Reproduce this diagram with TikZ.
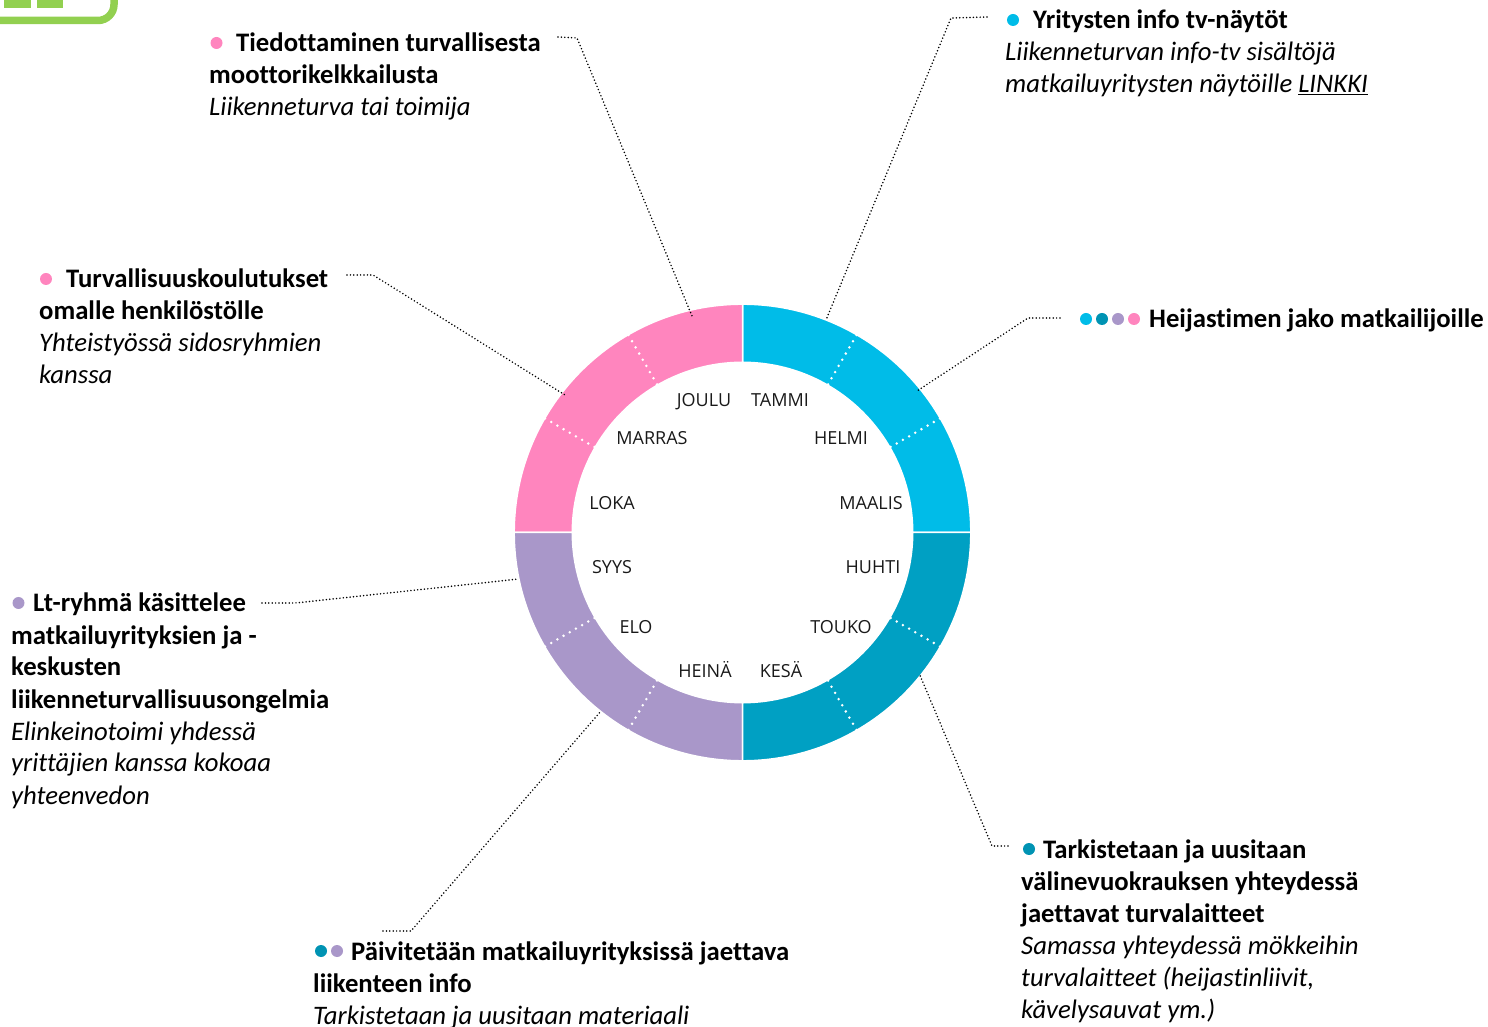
\documentclass[tikz,border=0pt]{standalone}
\usepackage{fontspec}
\setmainfont[Ligatures=NoCommon]{Carlito}
\newfontfamily\monthfont{Open Sans}
\definecolor{ringpink}{HTML}{FF85BE}
\definecolor{ringcyan}{HTML}{00BCE8}
\definecolor{ringteal}{HTML}{00A0C3}
\definecolor{ringlilac}{HTML}{A997C9}
\definecolor{ballteal}{HTML}{0093B3}
\definecolor{logogreen}{HTML}{92D050}

\begin{document}
\begin{tikzpicture}
        [x=1pt, y=1pt,
        info/.style={anchor=north west, align=left, inner sep=0pt, font=\fontsize{26.7}{32}\selectfont},
        month/.style={anchor=base, inner sep=0pt, text=black!90, font=\monthfont\fontsize{18}{20}\selectfont},
        ball/.style={circle, inner sep=0pt, minimum size=12pt},
        leader/.style={line width=1.7pt, line cap=round, dash pattern=on 0pt off 3.4pt},
        segment/.style={draw=white, line width=1.5pt},
        divider/.style={white, line width=2.8pt, line cap=round, dash pattern=on 0pt off 7.125pt}]

    \useasboundingbox (0,0) rectangle (1488,1026);

    % logo corner
    \draw[logogreen, line width=7.5pt] (0,1005.5) -- (98,1005.5) arc[start angle=-90, end angle=0, radius=16] -- (114,1026);
    \fill[logogreen] (4,1018) rectangle (31,1026);
    \fill[logogreen] (37,1018) rectangle (63,1026);

    % ring
    \begin{scope}[shift={(742.5,493.5)}]
      \filldraw[segment, fill=ringcyan] (0:228.3) arc[start angle=0, end angle=90, radius=228.3] -- (90:170.2) arc[start angle=90, end angle=0, radius=170.2] -- cycle;
      \filldraw[segment, fill=ringpink] (90:228.3) arc[start angle=90, end angle=180, radius=228.3] -- (180:170.2) arc[start angle=180, end angle=90, radius=170.2] -- cycle;
      \filldraw[segment, fill=ringlilac] (180:228.3) arc[start angle=180, end angle=270, radius=228.3] -- (270:170.2) arc[start angle=270, end angle=180, radius=170.2] -- cycle;
      \filldraw[segment, fill=ringteal] (270:228.3) arc[start angle=270, end angle=360, radius=228.3] -- (0:170.2) arc[start angle=0, end angle=-90, radius=170.2] -- cycle;

      \draw[divider] (60:171) -- (60:228.2);
      \draw[divider] (30:171) -- (30:228.2);
      \draw[divider] (120:171) -- (120:228.2);
      \draw[divider] (150:171) -- (150:228.2);
      \draw[divider] (210:171) -- (210:228.2);
      \draw[divider] (240:171) -- (240:228.2);
      \draw[divider] (300:171) -- (300:228.2);
      \draw[divider] (330:171) -- (330:228.2);
    \end{scope}

    % months
    \node[month] (joulu) at (704,619) {JOULU};
    \node[month] (tammi) at (780,619) {TAMMI};
    \node[month] (marras) at (652,581) {MARRAS};
    \node[month] (helmi) at (841,581) {HELMI};
    \node[month] (loka) at (612,516) {LOKA};
    \node[month] (maalis) at (871,516) {MAALIS};
    \node[month] (syys) at (612,452) {SYYS};
    \node[month] (huhti) at (873,452) {HUHTI};
    \node[month] (elo) at (636,392) {ELO};
    \node[month] (touko) at (841,392) {TOUKO};
    \node[month] (heina) at (705,348) {HEINÄ};
    \node[month] (kesa) at (781,348) {KESÄ};

    % texts
    \node[info] (tiedotus) at (209,996.6) {\strut\hspace*{27pt}\textbf{Tiedottaminen turvallisesta}\\ \textbf{moottorikelkkailusta}\\ \textit{Liikenneturva tai toimija}};
    \node[info] (koulutus) at (39,760.6) {\strut\hspace*{27pt}\textbf{Turvallisuuskoulutukset}\\ \textbf{omalle henkilöstölle}\\ \textit{Yhteistyössä sidosryhmien}\\ \textit{kanssa}};
    \node[info] (ltryhma) at (11,436.6) {\strut\hspace*{22pt}\textbf{Lt-ryhmä käsittelee}\\ \textbf{matkailuyrityksien ja -}\\ \textbf{keskusten}\\ \textbf{liikenneturvallisuusongelmia}\\ \textit{Elinkeinotoimi yhdessä}\\ \textit{yrittäjien kanssa kokoaa}\\ \textit{yhteenvedon}};
    \node[info] (yritys) at (1005,1019.6) {\strut\hspace*{28pt}\textbf{Yritysten info tv-näytöt}\\ \textit{Liikenneturvan info-tv sisältöjä}\\ \textit{matkailuyritysten näytöille \underline{LINKKI}}};
    \node[info] (heijastin) at (1149,720.6) {\strut\textbf{Heijastimen jako matkailijoille}};
    \node[info] (tarkistus) at (1021,190.6) {\strut\hspace*{22pt}\textbf{Tarkistetaan ja uusitaan}\\ \textbf{välinevuokrauksen yhteydessä}\\ \textbf{jaettavat turvalaitteet}\\ \textit{Samassa yhteydessä mökkeihin}\\ \textit{turvalaitteet (heijastinliivit,}\\ \textit{kävelysauvat ym.)}};
    \node[info] (paivitys) at (313,88.6) {\strut\hspace*{38pt}\textbf{Päivitetään matkailuyrityksissä jaettava}\\ \textbf{liikenteen info}\\ \textit{Tarkistetaan ja uusitaan materiaali}};

    % balls
    \node[ball, fill=ringpink] (b1) at (216.5,983) {};
    \node[ball, fill=ringpink] (b2) at (46,747) {};
    \node[ball, fill=ringlilac] (b3) at (18.5,423) {};
    \node[ball, fill=ringcyan] (b4) at (1013,1006) {};
    \node[ball, fill=ringcyan] (b5) at (1086,707) {};
    \node[ball, fill=ballteal] (b6) at (1102,707) {};
    \node[ball, fill=ringlilac] (b7) at (1118,707) {};
    \node[ball, fill=ringpink] (b8) at (1134,707) {};
    \node[ball, fill=ballteal] (b9) at (1029,177) {};
    \node[ball, fill=ballteal] (b10) at (321,75) {};
    \node[ball, fill=ringlilac] (b11) at (337,75) {};

    % leaders
    \coordinate (tiedotusend) at (558,989);
    \coordinate (tiedotusbend) at (577,988);
    \coordinate (tiedotusring) at (692,710);
    \coordinate (yritysend) at (987,1009);
    \coordinate (yritysbend) at (951,1008);
    \coordinate (yritysring) at (826,706);
    \coordinate (heijastinend) at (1060,708);
    \coordinate (heijastinbend) at (1028,708);
    \coordinate (heijastinring) at (917,635);
    \coordinate (koulutusend) at (347,751);
    \coordinate (koulutusbend) at (373,751);
    \coordinate (koulutusring) at (565,631);
    \coordinate (ltryhmaend) at (262,423);
    \coordinate (ltryhmabend) at (295,423);
    \coordinate (ltryhmaring) at (519,447);
    \coordinate (paivitysend) at (383,95);
    \coordinate (paivitysbend) at (411,95);
    \coordinate (paivitysring) at (601,315);
    \coordinate (tarkistusend) at (1008,180);
    \coordinate (tarkistusbend) at (992,180);
    \coordinate (tarkistusring) at (919,353);

    \draw[leader] (tiedotusend) -- (tiedotusbend) -- (tiedotusring);
    \draw[leader] (yritysend) -- (yritysbend) -- (yritysring);
    \draw[leader] (heijastinend) -- (heijastinbend) -- (heijastinring);
    \draw[leader] (koulutusend) -- (koulutusbend) -- (koulutusring);
    \draw[leader] (ltryhmaend) -- (ltryhmabend) -- (ltryhmaring);
    \draw[leader] (paivitysend) -- (paivitysbend) -- (paivitysring);
    \draw[leader] (tarkistusend) -- (tarkistusbend) -- (tarkistusring);
\end{tikzpicture}
\end{document}
